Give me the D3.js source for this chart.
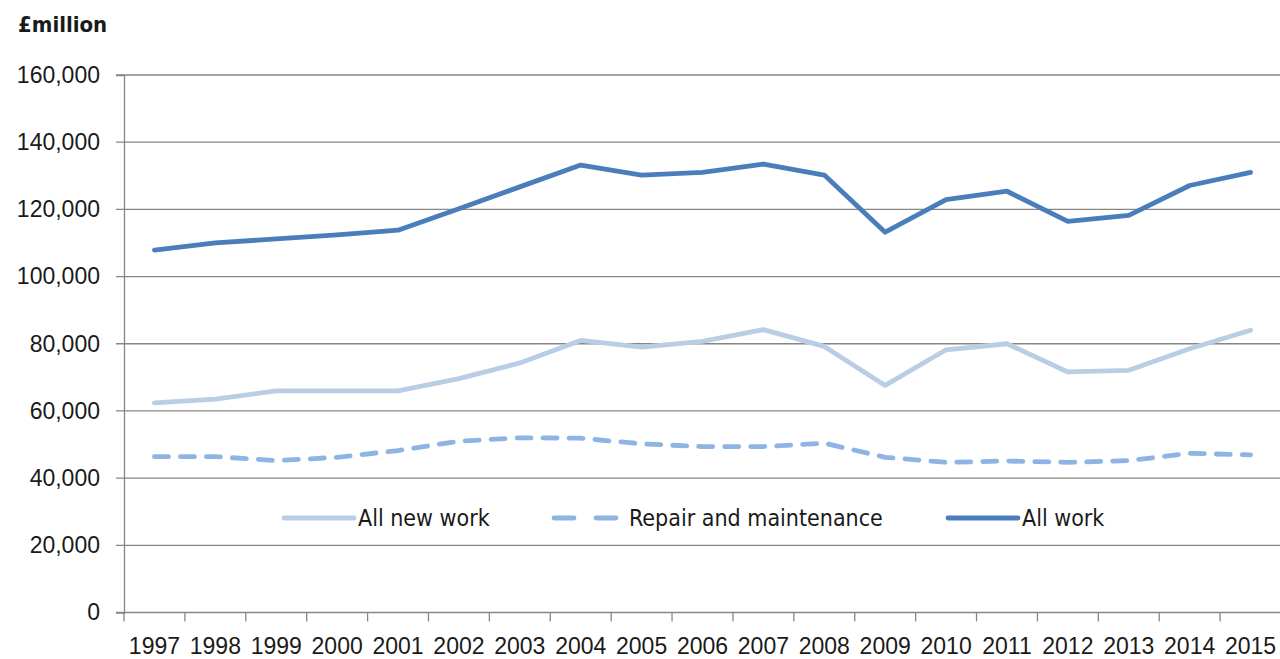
<!DOCTYPE html>
<html>
<head>
<meta charset="utf-8">
<script src="https://cdn.jsdelivr.net/npm/d3@7"></script>
<style>
  body { margin: 0; background: #fff; }
  svg { display: block; font-family: "DejaVu Sans Condensed", "DejaVu Sans", sans-serif; }
</style>
</head>
<body>
<div id="chart"></div>
<script>
const years = ['1997', '1998', '1999', '2000', '2001', '2002', '2003', '2004', '2005', '2006',
  '2007', '2008', '2009', '2010', '2011', '2012', '2013', '2014', '2015']
const allNewWork = [62400, 63500, 66000, 66000, 66000, 69600, 74300, 81000, 79000, 80700,
  84200, 79200, 67600, 78200, 80000, 71600, 72100, 78500, 84000]
const repairMaintenance = [46400, 46400, 45200, 46200, 48200, 51000, 52000, 51900, 50200, 49400,
  49400, 50400, 46200, 44700, 45100, 44700, 45200, 47400, 46900]
const allWork = [107900, 110000, 111200, 112400, 113800, 120200, 126700, 133200, 130200, 131000,
  133500, 130200, 113200, 122900, 125400, 116400, 118200, 127100, 131000]
const yTicks = [0, 20000, 40000, 60000, 80000, 100000, 120000, 140000, 160000]

const series = [
  { name: 'All new work', values: allNewWork, color: '#b9cde5', dash: null },
  { name: 'Repair and maintenance', values: repairMaintenance, color: '#8eb4e3', dash: '14,12' },
  { name: 'All work', values: allWork, color: '#4a7ebb', dash: null }
]

const width = 1280
const height = 659
const margin = { top: 75, right: -1, bottom: 46.5, left: 124 }
const fontSize = 23

const svg = d3.select('#chart')
  .append('svg')
  .attr('width', width)
  .attr('height', height)

const x = d3.scaleBand()
  .domain(years)
  .range([margin.left, width - margin.right])

const y = d3.scaleLinear()
  .domain([0, 160000])
  .range([height - margin.bottom, margin.top])

// gridlines
svg.append('g')
  .selectAll('line')
  .data(yTicks)
  .join('line')
  .attr('x1', margin.left - 8)
  .attr('x2', width)
  .attr('y1', (d) => y(d))
  .attr('y2', (d) => y(d))
  .attr('stroke', '#868686')
  .attr('stroke-width', 1.3)

// y axis
const yAxis = svg.append('g')
  .attr('transform', `translate(${margin.left},0)`)
  .call(d3.axisLeft(y).tickValues(yTicks).tickSize(8).tickPadding(16)
    .tickFormat(d3.format(',')))
yAxis.select('.domain').attr('stroke', '#868686').attr('stroke-width', 1.3)
yAxis.selectAll('.tick line').remove()
yAxis.selectAll('text')
  .attr('font-size', fontSize)
  .attr('fill', '#1a1a1a')

// x axis
const xAxis = svg.append('g')
  .attr('transform', `translate(0,${y(0)})`)
  .call(d3.axisBottom(x).tickSize(0).tickPadding(25))
xAxis.select('.domain').remove()
xAxis.selectAll('text')
  .attr('font-size', fontSize)
  .attr('fill', '#1a1a1a')

svg.append('g')
  .selectAll('line')
  .data(years.concat(['end']))
  .join('line')
  .attr('x1', (d, i) => margin.left + i * x.step())
  .attr('x2', (d, i) => margin.left + i * x.step())
  .attr('y1', y(0))
  .attr('y2', y(0) + 9)
  .attr('stroke', '#868686')
  .attr('stroke-width', 1.3)

// unit label
svg.append('text')
  .attr('x', 18)
  .attr('y', 32)
  .attr('font-size', 22)
  .attr('font-weight', 'bold')
  .attr('fill', '#1a1a1a')
  .text('£million')

// lines
const line = d3.line()
  .x((d, i) => x(years[i]) + x.bandwidth() / 2)
  .y((d) => y(d))

svg.append('g')
  .selectAll('path')
  .data(series)
  .join('path')
  .attr('d', (d) => line(d.values))
  .attr('fill', 'none')
  .attr('stroke', (d) => d.color)
  .attr('stroke-width', 4.8)
  .attr('stroke-linejoin', 'round')
  .attr('stroke-linecap', 'round')
  .attr('stroke-dasharray', (d) => d.dash)

// legend
const legendX = [282, 552, 946]
const legend = svg.append('g')
  .selectAll('g')
  .data(series)
  .join('g')
  .attr('transform', (d, i) => `translate(${legendX[i]},518)`)

legend.append('line')
  .attr('x1', 2)
  .attr('x2', (d) => d.dash ? 66 : 72)
  .attr('stroke', (d) => d.color)
  .attr('stroke-width', 4.8)
  .attr('stroke-linecap', 'round')
  .attr('stroke-dasharray', (d) => d.dash ? '20,22' : null)

legend.append('text')
  .attr('x', (d) => d.dash ? 77 : 76)
  .attr('dy', '0.36em')
  .attr('font-size', fontSize)
  .attr('fill', '#1a1a1a')
  .text((d) => d.name)
</script>
</body>
</html>
